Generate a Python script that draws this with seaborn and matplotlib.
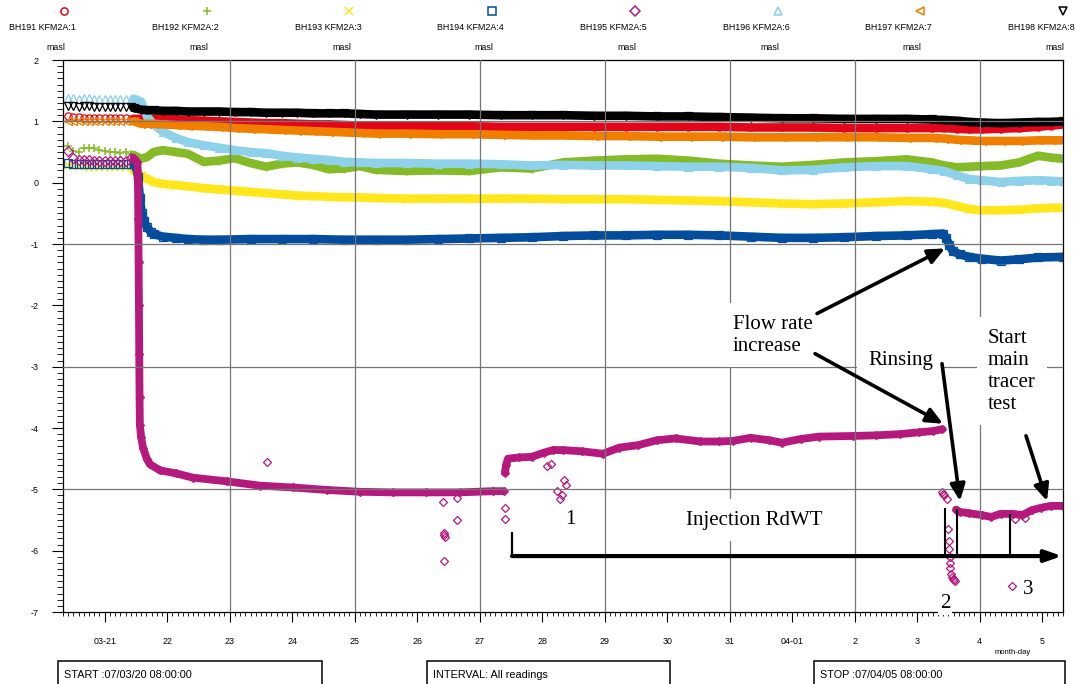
import matplotlib
matplotlib.use("Agg")
import matplotlib.pyplot as plt
import matplotlib.dates as mdates
from matplotlib.lines import Line2D
from matplotlib.patches import Rectangle
from matplotlib.ticker import FuncFormatter, MultipleLocator
import pandas as pd
import seaborn as sns

# ---------------------------------------------------------------- data
START = pd.Timestamp("2007-03-20 08:00:00")
STOP = pd.Timestamp("2007-04-05 08:00:00")

names = ["BH191 KFM2A:1", "BH192 KFM2A:2", "BH193 KFM2A:3", "BH194 KFM2A:4",
         "BH195 KFM2A:5", "BH196 KFM2A:6", "BH197 KFM2A:7", "BH198 KFM2A:8"]
colors = ["#e3061a", "#84bb27", "#ffe71c", "#034d9c",
          "#b5197d", "#8dd1ea", "#f07f00", "#000000"]
markers = ["o", "+", "x", "s", "D", "^", "<", "v"]

# two-hourly readings before pumping starts (hours after START)
pre_hours = [2, 4, 6, 8, 10, 12, 14, 16, 18, 20, 22, 24, 26]
pre_bh191 = [1.08, 1.07, 1.07, 1.06, 1.06, 1.06, 1.06, 1.05, 1.05, 1.05, 1.05, 1.05, 1.04]
pre_bh192 = [0.60, 0.52, 0.50, 0.56, 0.57, 0.56, 0.53, 0.51, 0.50, 0.50, 0.49, 0.50, 0.47]
pre_bh193 = [0.28, 0.27, 0.27, 0.27, 0.26, 0.26, 0.26, 0.26, 0.26, 0.25, 0.25, 0.25, 0.25]
pre_bh194 = [0.32, 0.31, 0.31, 0.31, 0.31, 0.31, 0.31, 0.30, 0.30, 0.30, 0.30, 0.30, 0.30]
pre_bh195 = [0.52, 0.40, 0.37, 0.37, 0.37, 0.36, 0.36, 0.36, 0.36, 0.36, 0.36, 0.36, 0.40]
pre_bh196 = [1.38, 1.38, 1.37, 1.38, 1.38, 1.37, 1.37, 1.37, 1.37, 1.36, 1.36, 1.36, 1.36]
pre_bh197 = [1.01, 1.01, 1.01, 1.01, 1.01, 1.00, 1.00, 1.00, 1.00, 1.00, 1.00, 1.00, 1.00]
pre_bh198 = [1.25, 1.25, 1.24, 1.25, 1.25, 1.24, 1.24, 1.24, 1.24, 1.24, 1.24, 1.24, 1.23]

# readings during pumping (days after START)
post_days = [1.13, 1.25, 1.35, 1.45, 1.6, 1.8, 2.0, 2.25, 2.5, 2.75, 3.0, 3.25, 3.5, 3.75,
             4.0, 4.25, 4.5, 4.75, 5.0, 5.5, 6.0, 6.5, 7.0, 7.5, 8.0, 8.5, 9.0, 9.5,
             10.0, 10.5, 11.0, 11.5, 12.0, 12.5, 13.0, 13.5, 13.9, 14.1, 14.3, 14.5,
             14.7, 15.0, 15.3, 15.6, 15.8, 16.0]
post_bh191 = [1.04, 1.04, 1.04, 1.04, 1.04, 1.03, 1.02, 1.01, 1.00, 0.99, 0.98, 0.97, 0.97, 0.96,
              0.95, 0.95, 0.94, 0.93, 0.93, 0.92, 0.92, 0.92, 0.91, 0.91, 0.91, 0.91, 0.91, 0.91,
              0.91, 0.91, 0.90, 0.90, 0.90, 0.89, 0.89, 0.89, 0.89, 0.89, 0.88, 0.87,
              0.87, 0.88, 0.89, 0.91, 0.93, 0.95]
post_bh192 = [0.45, 0.39, 0.42, 0.50, 0.53, 0.50, 0.47, 0.34, 0.36, 0.40, 0.32, 0.26, 0.31, 0.33,
              0.29, 0.22, 0.23, 0.27, 0.21, 0.19, 0.20, 0.19, 0.25, 0.23, 0.33, 0.36, 0.38, 0.39,
              0.36, 0.31, 0.28, 0.26, 0.29, 0.33, 0.35, 0.38, 0.33, 0.28, 0.25, 0.26,
              0.27, 0.28, 0.33, 0.44, 0.41, 0.39]
post_bh193 = [0.20, 0.12, 0.06, 0.01, -0.02, -0.04, -0.06, -0.09, -0.11, -0.13, -0.15, -0.17, -0.19, -0.21,
              -0.22, -0.23, -0.24, -0.24, -0.25, -0.26, -0.26, -0.26, -0.26, -0.26, -0.27, -0.27, -0.27, -0.28,
              -0.29, -0.30, -0.32, -0.34, -0.35, -0.34, -0.32, -0.30, -0.31, -0.33, -0.38, -0.43,
              -0.45, -0.45, -0.44, -0.42, -0.41, -0.41]
post_bh196 = [1.37, 1.32, 1.07, 0.95, 0.83, 0.73, 0.66, 0.61, 0.57, 0.53, 0.50, 0.48, 0.44, 0.41,
              0.39, 0.37, 0.34, 0.33, 0.32, 0.32, 0.31, 0.31, 0.30, 0.28, 0.29, 0.28, 0.28, 0.27,
              0.26, 0.26, 0.24, 0.20, 0.21, 0.25, 0.27, 0.27, 0.22, 0.19, 0.12, 0.06,
              0.04, 0.01, 0.03, 0.04, 0.03, 0.02]
post_bh197 = [1.00, 0.96, 0.96, 0.96, 0.95, 0.94, 0.93, 0.92, 0.91, 0.89, 0.88, 0.87, 0.86, 0.85,
              0.84, 0.83, 0.82, 0.81, 0.80, 0.80, 0.79, 0.79, 0.78, 0.77, 0.77, 0.76, 0.76, 0.75,
              0.75, 0.75, 0.74, 0.74, 0.74, 0.74, 0.74, 0.73, 0.73, 0.72, 0.70, 0.69,
              0.68, 0.68, 0.68, 0.69, 0.69, 0.69]
post_bh198 = [1.22, 1.19, 1.18, 1.18, 1.17, 1.17, 1.16, 1.16, 1.16, 1.15, 1.15, 1.14, 1.14, 1.14,
              1.13, 1.13, 1.13, 1.12, 1.11, 1.11, 1.11, 1.11, 1.10, 1.10, 1.10, 1.09, 1.09, 1.08,
              1.08, 1.07, 1.06, 1.05, 1.05, 1.04, 1.04, 1.04, 1.03, 1.02, 1.01, 0.99,
              0.98, 0.97, 0.98, 0.99, 0.99, 1.00]

bh194_days = [1.13, 1.17, 1.20, 1.23, 1.26, 1.30, 1.34, 1.40, 1.45, 1.6, 1.8, 2.0, 2.25, 2.5,
              3.0, 3.5, 4.0, 4.5, 5.0, 5.5, 6.0, 6.5, 7.0, 7.5, 8.0, 8.5, 9.0, 9.5, 10.0, 10.5,
              11.0, 11.5, 12.0, 12.5, 13.0, 13.5, 13.9, 14.08, 14.13, 14.18, 14.24, 14.35,
              14.5, 14.7, 15.0, 15.3, 15.6, 16.0]
bh194_post = [0.30, 0.27, 0.10, -0.25, -0.50, -0.63, -0.72, -0.80, -0.84, -0.88, -0.90, -0.92, -0.93, -0.93,
              -0.92, -0.92, -0.92, -0.93, -0.93, -0.93, -0.92, -0.91, -0.90, -0.89, -0.87, -0.86, -0.86, -0.85,
              -0.85, -0.86, -0.88, -0.90, -0.90, -0.89, -0.87, -0.86, -0.84, -0.83, -0.90, -1.02,
              -1.12, -1.17, -1.21, -1.24, -1.27, -1.25, -1.22, -1.21]

# BH195: drawdown, injection period, rinsing drop, tracer test
bh195_a_days = [1.13, 1.19, 1.20, 1.205, 1.21, 1.215, 1.22, 1.225, 1.23, 1.25, 1.28, 1.34, 1.39,
                1.55, 1.81, 2.08, 2.62, 3.15, 3.68, 4.22, 4.75, 5.28, 5.81, 6.35, 6.88, 7.05]
bh195_a_post = [0.40, 0.33, 0.0, -0.6, -1.3, -2.0, -2.8, -3.5, -3.95, -4.15, -4.32, -4.50, -4.59,
                -4.69, -4.74, -4.81, -4.87, -4.94, -4.97, -5.01, -5.04, -5.05, -5.05, -5.05, -5.03, -5.03]
bh195_b_days = [7.07, 7.09, 7.12, 7.30, 7.50, 7.70, 7.84, 8.00, 8.30, 8.64, 8.90, 9.20, 9.50, 9.80,
                10.20, 10.50, 10.72, 11.00, 11.30, 11.50, 11.80, 12.10, 12.64, 13.00, 13.39, 13.70,
                13.92, 14.07]
bh195_b_post = [-4.73, -4.60, -4.50, -4.48, -4.47, -4.40, -4.36, -4.36, -4.38, -4.42, -4.32, -4.28, -4.20, -4.17,
                -4.22, -4.22, -4.21, -4.16, -4.20, -4.24, -4.18, -4.14, -4.13, -4.12, -4.10, -4.07,
                -4.05, -4.02]
bh195_c_days = [14.06, 14.08, 14.10, 14.14, 14.165, 14.17, 14.18, 14.19, 14.195, 14.20, 14.21,
                14.23, 14.245, 14.26, 14.27]
bh195_c_post = [-5.05, -5.08, -5.10, -5.16, -5.65, -5.85, -5.98, -6.10, -6.20, -6.29, -6.38,
                -6.43, -6.47, -6.48, -6.49]
bh195_d_days = [14.29, 14.35, 14.50, 14.70, 14.85, 15.00, 15.20, 15.35, 15.50, 15.65, 15.80, 16.00]
bh195_d_post = [-5.33, -5.37, -5.39, -5.42, -5.45, -5.40, -5.40, -5.42, -5.34, -5.30, -5.27, -5.27]
bh195_odd_days = [3.26, 6.08, 6.09, 6.10, 6.11, 6.10, 6.30, 6.30, 7.07, 7.07, 7.74, 7.81, 7.90,
                  7.95, 7.98, 8.02, 8.05, 15.18, 15.23, 15.39]
bh195_odd_post = [-4.56, -5.20, -5.72, -5.75, -5.78, -6.17, -5.50, -5.14, -5.30, -5.48, -4.62, -4.58, -5.03,
                  -5.16, -5.10, -4.85, -4.93, -6.58, -5.48, -5.47]

# ---------------------------------------------------------------- style
sns.set_theme(style="ticks", rc={
    "axes.edgecolor": "black", "xtick.color": "black", "ytick.color": "black",
    "text.color": "black", "axes.labelcolor": "black", "axes.linewidth": 0.9,
    "axes.unicode_minus": False,
})
plt.rcParams["font.family"] = ["Liberation Sans", "DejaVu Sans"]
SERIF = ["Liberation Serif", "DejaVu Serif"]

W, H = 1076, 684
fig = plt.figure(figsize=(W / 100, H / 100), dpi=100, facecolor="white")


def fx(px):
    return px / W


def fy(py):
    return 1 - py / H


ax = fig.add_axes([fx(63), fy(612), 1000 / W, 552 / H])


def when(day):
    return START + pd.Timedelta(days=day)


def at(day):
    return mdates.date2num(when(day).to_pydatetime())


def draw(days, levels, color, marker, lw, ms=5.2, mew=0.9):
    frame = pd.DataFrame({"time": [when(d) for d in days], "level": levels})
    sns.lineplot(data=frame, x="time", y="level", ax=ax, color=color,
                 linewidth=lw, linestyle="-" if lw > 0 else "none",
                 marker=marker, markersize=ms, markerfacecolor="none",
                 markeredgecolor=color, markeredgewidth=mew,
                 estimator=None, sort=False, zorder=2,
                 solid_capstyle="round", solid_joinstyle="round")


BAND = 6.2
pre_days = [h / 24 for h in pre_hours]
pre_sets = [pre_bh191, pre_bh192, pre_bh193, pre_bh194, pre_bh195, pre_bh196, pre_bh197, pre_bh198]
post_sets = {0: post_bh191, 1: post_bh192, 2: post_bh193, 5: post_bh196, 6: post_bh197, 7: post_bh198}

for i in range(8):
    c, m = colors[i], markers[i]
    draw(pre_days, pre_sets[i], c, m, 0, mew=1.1 if m in "+x" else 0.9)
    if i in post_sets:
        draw(post_days, post_sets[i], c, m, BAND)
    elif i == 3:
        draw(bh194_days, bh194_post, c, m, BAND)
    else:
        ms = 4.0
        draw(bh195_a_days, bh195_a_post, c, m, BAND - 0.6, ms)
        draw(bh195_b_days, bh195_b_post, c, m, BAND - 0.6, ms)
        draw(bh195_c_days, bh195_c_post, c, m, 0, ms)
        draw(bh195_d_days, bh195_d_post, c, m, BAND - 0.6, ms)
        draw(bh195_odd_days, bh195_odd_post, c, m, 0, ms)

# ---------------------------------------------------------------- axes
ax.set_xlim(START, STOP)
ax.set_ylim(-7, 2)
ax.set_xlabel("")
ax.set_ylabel("")

first_tick = START.normalize() + pd.Timedelta(days=1)


def day_label(x, pos):
    d = pd.Timestamp(mdates.num2date(x)).tz_localize(None)
    if d.day == 1 or d.normalize() == first_tick:
        return d.strftime("%m-%d")
    return str(d.day)


ax.xaxis.set_major_locator(mdates.DayLocator())
ax.xaxis.set_minor_locator(mdates.HourLocator(byhour=range(0, 24, 2)))
ax.xaxis.set_major_formatter(FuncFormatter(day_label))
ax.yaxis.set_major_locator(MultipleLocator(1))
ax.yaxis.set_minor_locator(MultipleLocator(0.1))
ax.yaxis.set_major_formatter(FuncFormatter(lambda v, p: f"{int(round(v))}"))

ax.tick_params(axis="x", which="major", direction="out", length=7.2, width=0.8,
               pad=11, labelsize=6.4, bottom=True)
ax.tick_params(axis="x", which="minor", direction="out", length=3.0, width=0.6, bottom=True)
ax.tick_params(axis="y", which="major", direction="out", length=8, width=0.8,
               pad=9.5, labelsize=6.4, left=True)
ax.tick_params(axis="y", which="minor", direction="out", length=4.3, width=0.6, left=True)
for s in ax.spines.values():
    s.set_visible(True)
    s.set_color("black")
    s.set_linewidth(0.9)

# two-day and two-metre reference grid drawn over the traces
grid_days = [2.6667 + 2 * k for k in range(7)]
for d in grid_days:
    ax.axvline(when(d), color="#767676", lw=0.9, zorder=3)
for v in [1, -1, -3, -5]:
    ax.axhline(v, color="#767676", lw=0.9, zorder=3)

# ---------------------------------------------------------------- annotations
arrow = dict(arrowstyle="-|>,head_length=1.0,head_width=0.45", color="black",
             lw=2.6, shrinkA=0, shrinkB=0, mutation_scale=10)
ax.annotate("", xy=(at(14.112), -1.072), xytext=(at(12.064), -2.134), arrowprops=arrow, zorder=6)
ax.annotate("", xy=(at(14.08), -3.931), xytext=(at(12.032), -2.788), arrowprops=arrow, zorder=6)
ax.annotate("", xy=(at(14.352), -5.19), xytext=(at(14.064), -2.951), arrowprops=arrow, zorder=6)
ax.annotate("", xy=(at(15.744), -5.19), xytext=(at(15.408), -4.127), arrowprops=arrow, zorder=6)
long_arrow = dict(arrowstyle="-|>,head_length=1.0,head_width=0.35", color="black",
                  lw=3.0, shrinkA=0, shrinkB=0, mutation_scale=10)
ax.annotate("", xy=(at(15.984), -6.088), xytext=(at(7.184), -6.088), arrowprops=long_arrow, zorder=6)
ax.vlines([at(7.184)], -6.088, -5.696, color="black", lw=1.6, zorder=6)
ax.vlines([at(14.112)], -6.088, -5.304, color="black", lw=1.5, zorder=6)
ax.vlines([at(14.304)], -6.088, -5.320, color="black", lw=1.5, zorder=6)
ax.vlines([at(15.152)], -6.088, -5.402, color="black", lw=1.5, zorder=6)

box = dict(facecolor="white", edgecolor="none", boxstyle="square,pad=0.55")
small_box = dict(facecolor="white", edgecolor="none", boxstyle="square,pad=0.1")
tk = dict(family=SERIF, fontsize=15, zorder=5, linespacing=1.22)
ax.text(at(10.72), -2.15, "Flow rate\nincrease", ha="left", va="top", bbox=box, **tk)
ax.text(at(12.88), -2.75, "Rinsing", ha="left", va="top", bbox=box, **tk)
ax.text(at(14.80), -2.38, "Start\nmain\ntracer\ntest", ha="left", va="top", bbox=box, **tk)
ax.text(at(8.11), -5.50, "1", ha="center", va="center", bbox=small_box, **tk)
ax.text(at(9.968), -5.50, "Injection RdWT", ha="left", va="center", bbox=box, **tk)
ax.text(at(14.11), -6.86, "2", ha="center", va="center", bbox=small_box, **tk)
ax.text(at(15.44), -6.64, "3", ha="center", va="center", bbox=small_box, **tk)

# ---------------------------------------------------------------- header legend
for i in range(8):
    fig.add_artist(Line2D([fx(64 + 142.7 * i)], [fy(11)], transform=fig.transFigure,
                          marker=markers[i], color=colors[i], markerfacecolor="none",
                          markersize=5.2, markeredgewidth=1.1, linestyle="none"))
    fig.text(fx(42.5 + 142.7 * i), fy(27.5), names[i], ha="center", va="center", fontsize=6.4)
    fig.text(fx(56 + 142.7 * i), fy(47.5), "masl", ha="center", va="center", fontsize=6.4)

fig.text(fx(1013), fy(653), "month-day", ha="center", va="center", fontsize=5.5)

# ---------------------------------------------------------------- footer boxes
footer = [(58, 322, START.strftime("START :%y/%m/%d %H:%M:%S")),
          (427, 670, "INTERVAL: All readings"),
          (814, 1065, STOP.strftime("STOP :%y/%m/%d %H:%M:%S"))]
for x0, x1, label in footer:
    fig.add_artist(Rectangle((fx(x0), fy(700)), (x1 - x0) / W, (700 - 661) / H,
                             transform=fig.transFigure, fill=False,
                             edgecolor="black", linewidth=1.1))
    fig.text(fx(x0 + 6), fy(675), label, ha="left", va="center", fontsize=7.8)

fig.savefig("out.png", dpi=100, facecolor="white")
